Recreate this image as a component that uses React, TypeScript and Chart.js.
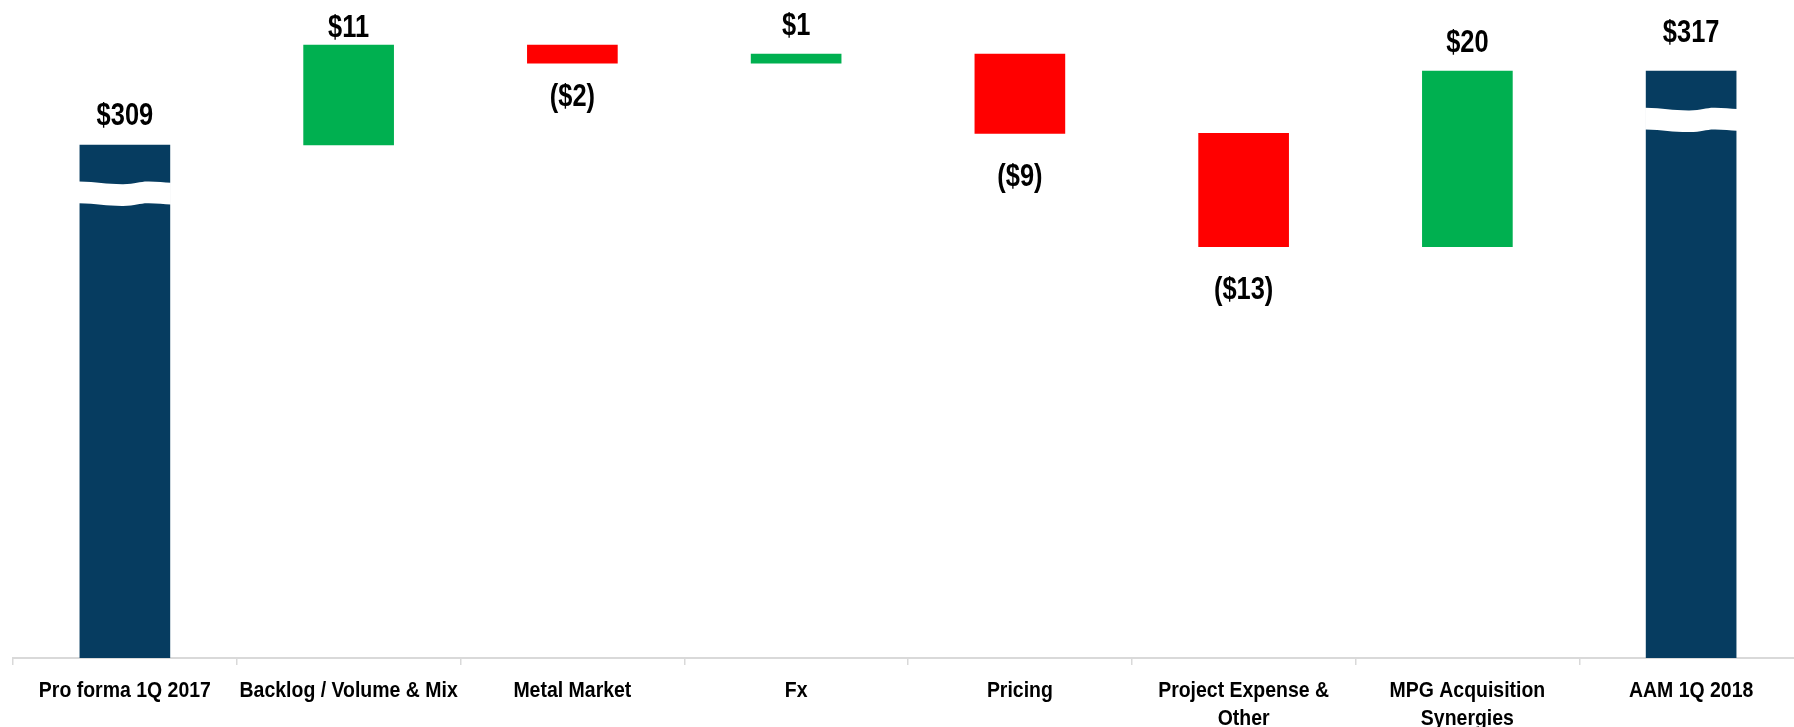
import React, { useEffect, useRef } from "react";
import { Chart, registerables } from "chart.js";

Chart.register(...registerables);

// ---- data ----
const categories: (string | string[])[] = [
  "Pro forma 1Q 2017",
  "Backlog / Volume & Mix",
  "Metal Market",
  "Fx",
  "Pricing",
  ["Project Expense &", "Other"],
  ["MPG Acquisition", "Synergies"],
  "AAM 1Q 2018",
];
const startTotal = 309;
const changes = [11.1, -2.0, 1.0, -8.8, -12.6, 19.5];
const axisMin = 252;
const axisMax = 324;

// ---- styles ----
const NAVY = "#063c60";
const GREEN = "#00b050";
const RED = "#ff0000";
const FONT_FAMILY = '"Liberation Sans", Arial, sans-serif';
// distance from bar edge to label baseline (layout, per bar)
const labelGap = [20, 8, 43, 19, 53, 52, 19, 29];

function buildSeries() {
  const ranges: [number, number][] = [];
  const colors: string[] = [];
  const texts: string[] = [];
  const below: boolean[] = [];
  const breaks: boolean[] = [];
  let level = startTotal;
  ranges.push([axisMin, startTotal]);
  colors.push(NAVY);
  texts.push(`$${Math.round(startTotal)}`);
  below.push(false);
  breaks.push(true);
  changes.forEach((c) => {
    const next = level + c;
    ranges.push([level, next]);
    colors.push(c >= 0 ? GREEN : RED);
    texts.push(c >= 0 ? `$${Math.round(c)}` : `($${Math.round(-c)})`);
    below.push(c < 0);
    breaks.push(false);
    level = next;
  });
  ranges.push([axisMin, level]);
  colors.push(NAVY);
  texts.push(`$${Math.round(level)}`);
  below.push(false);
  breaks.push(true);
  return { ranges, colors, texts, below, breaks };
}

function narrowText(
  ctx: CanvasRenderingContext2D,
  text: string,
  x: number,
  y: number,
  size: number,
  sx: number
) {
  ctx.save();
  ctx.translate(x, y);
  ctx.scale(sx, 1);
  ctx.font = `bold ${size}px ${FONT_FAMILY}`;
  ctx.fillStyle = "#000000";
  ctx.textAlign = "center";
  ctx.textBaseline = "alphabetic";
  ctx.fillText(text, 0, 0);
  ctx.restore();
}

export default function App() {
  const ref = useRef<HTMLCanvasElement | null>(null);

  useEffect(() => {
    if (!ref.current) return;
    const s = buildSeries();

    const overlay = {
      id: "wfOverlay",
      afterDatasetsDraw(chart: any) {
        const ctx = chart.ctx as CanvasRenderingContext2D;
        const meta = chart.getDatasetMeta(0);
        meta.data.forEach((el: any, i: number) => {
          const top = Math.min(el.y, el.base);
          const bottom = Math.max(el.y, el.base);
          const w = el.width;
          const L = el.x - w / 2 - 1;
          const R = el.x + w / 2 + 1;
          const W = R - L;
          if (s.breaks[i]) {
            const y1 = top + 36.5;
            const gap = 21.7;
            ctx.save();
            ctx.fillStyle = "#ffffff";
            ctx.beginPath();
            ctx.moveTo(L, y1);
            ctx.bezierCurveTo(L + 0.2 * W, y1 + 0.3, L + 0.3 * W, y1 + 2.8, L + 0.48 * W, y1 + 2.7);
            ctx.bezierCurveTo(L + 0.62 * W, y1 + 2.6, L + 0.66 * W, y1 - 0.2, L + 0.76 * W, y1);
            ctx.bezierCurveTo(L + 0.85 * W, y1 + 0.2, L + 0.93 * W, y1 + 0.9, R, y1 + 1.3);
            const y2 = y1 + gap;
            ctx.lineTo(R, y2 + 1.3);
            ctx.bezierCurveTo(L + 0.93 * W, y2 + 0.9, L + 0.85 * W, y2 + 0.2, L + 0.76 * W, y2);
            ctx.bezierCurveTo(L + 0.66 * W, y2 - 0.2, L + 0.62 * W, y2 + 2.6, L + 0.48 * W, y2 + 2.7);
            ctx.bezierCurveTo(L + 0.3 * W, y2 + 2.8, L + 0.2 * W, y2 + 0.3, L, y2);
            ctx.closePath();
            ctx.fill();
            ctx.restore();
          }
          const y = s.below[i] ? bottom + labelGap[i] : top - labelGap[i];
          narrowText(ctx, s.texts[i], el.x, y, 31, 0.82);
        });
      },
      afterDraw(chart: any) {
        const ctx = chart.ctx as CanvasRenderingContext2D;
        const xs = chart.scales.x;
        const base = xs.top + 39;
        categories.forEach((cat, i) => {
          const lines = Array.isArray(cat) ? cat : [cat];
          const x = xs.getPixelForValue(i);
          lines.forEach((line, j) => {
            narrowText(ctx, line, x, base + j * 28, 22, 0.885);
          });
        });
      },
    };

    const chart = new Chart(ref.current, {
      type: "bar",
      data: {
        labels: categories,
        datasets: [
          {
            data: s.ranges as any,
            backgroundColor: s.colors,
            borderWidth: 0,
            barThickness: 90,
          },
        ],
      },
      options: {
        animation: false,
        responsive: false,
        events: [],
        layout: { padding: { left: 13, right: 7, top: 10, bottom: 0 } },
        plugins: {
          legend: { display: false },
          tooltip: { enabled: false },
          title: { display: false },
        },
        scales: {
          y: {
            display: false,
            min: axisMin,
            max: axisMax,
          },
          x: {
            offset: true,
            grid: {
              offset: true,
              drawOnChartArea: false,
              drawTicks: true,
              tickLength: 7,
              color: "#d9d9d9",
              lineWidth: 1.5,
            },
            border: { display: true, color: "#d9d9d9", width: 2 },
            ticks: {
              display: false,
              autoSkip: false,
            },
            afterFit: (scale: any) => {
              scale.height = 69;
            },
          },
        },
      },
      plugins: [overlay],
    } as any);

    return () => chart.destroy();
  }, []);

  return (
    <div
      style={{
        position: "fixed",
        left: 0,
        top: 0,
        width: 1794,
        height: 727,
        overflow: "hidden",
        background: "#ffffff",
      }}
    >
      <canvas ref={ref} width={1810} height={727} style={{ display: "block", width: 1810, height: 727 }} />
    </div>
  );
}
